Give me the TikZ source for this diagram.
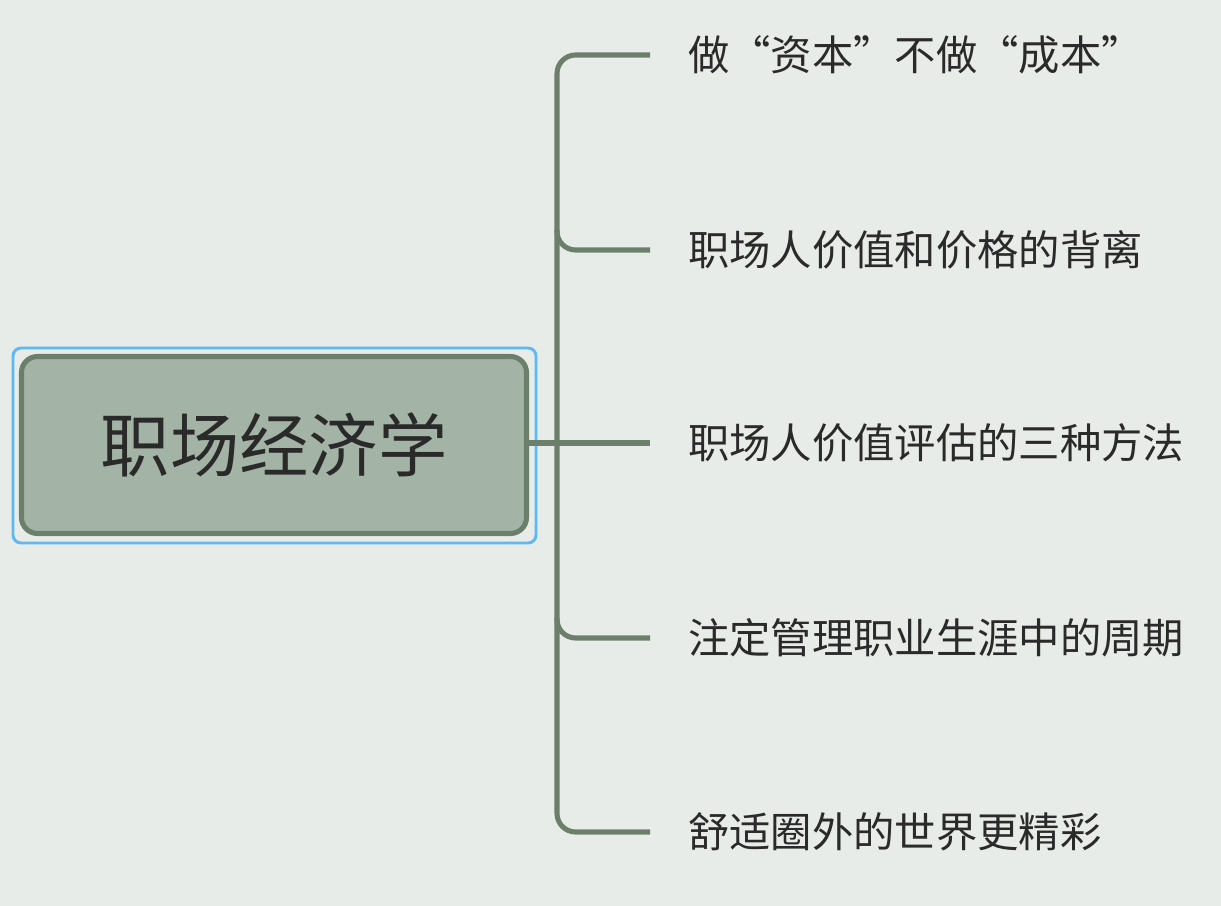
\documentclass[tikz,border=0pt]{standalone}
\usepackage{fontspec}
\newfontfamily\cjk{Noto Sans CJK SC}
\definecolor{bg}{HTML}{E8ECE8}
\definecolor{ln}{HTML}{6B7F6B}
\definecolor{rootfill}{HTML}{A3B4A6}
\definecolor{sel}{HTML}{5DB8F5}
\definecolor{txt}{HTML}{2A2A2A}
\begin{document}
\begin{tikzpicture}[x=0.75pt,y=-0.75pt,
  conn/.style={draw=ln,line width=3.8pt,rounded corners=14pt},
  leaf/.style={anchor=west,inner sep=0pt,font=\cjk\fontsize{31}{36}\selectfont,text=txt}]
\fill[bg] (0,0) rectangle (1221,906);
\useasboundingbox (0,0) rectangle (1221,906);
\draw[sel,line width=2.2pt,rounded corners=6pt] (13,348) rectangle (536,543);
\node (root) [draw=ln,line width=3.8pt,fill=rootfill,rounded corners=12pt,minimum width=505pt*0.75,minimum height=177pt*0.75,inner sep=0pt,font=\cjk\fontsize{52}{60}\selectfont,text=txt] at (274,445) {职场经济学};
\coordinate (j) at (557,443);
\coordinate (e1) at (650,55);
\coordinate (e2) at (650,250);
\coordinate (e3) at (650,443);
\coordinate (e4) at (650,638);
\coordinate (e5) at (650,832);
\draw[conn] (root.east|-j) -- (e3);
\draw[conn] (e1) -- (557,55) -- (557,832) -- (e5);
\draw[conn] (557,230) -- (557,250) -- (e2);
\draw[conn] (557,618) -- (557,638) -- (e4);
\node[leaf] (n1) at (688,55) {做“资本”不做“成本”};
\node[leaf] (n2) at (688,250) {职场人价值和价格的背离};
\node[leaf] (n3) at (688,443) {职场人价值评估的三种方法};
\node[leaf] (n4) at (688,638) {注定管理职业生涯中的周期};
\node[leaf] (n5) at (688,832) {舒适圈外的世界更精彩};
\end{tikzpicture}
\end{document}
